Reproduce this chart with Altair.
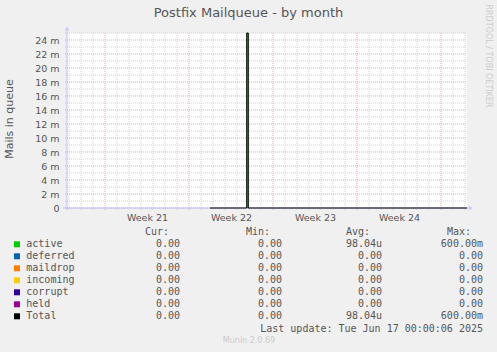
import json
import altair as alt
import pandas as pd

# ---------------- data ----------------
chart_title = "Postfix Mailqueue - by month"
y_title = "Mails in queue"
watermark = "RRDTOOL / TOBI OETIKER"
footer = "Munin 2.0.69"
last_update = "Last update: Tue Jun 17 00:00:06 2025"

# x axis: days counted from the start of week 21
x_domain = [-3.1667, 30.1667]
week_starts = [0, 7, 14, 21, 28]
week_mids = [3.5, 10.5, 17.5, 24.5]
week_labels = ["Week 21", "Week 22", "Week 23", "Week 24"]
day_lines = [-3, -2, -1, 1, 2, 3, 4, 5, 6, 8, 9, 10, 11, 12, 13, 15, 16, 17, 18, 19, 20,
             22, 23, 24, 25, 26, 27, 29, 30]

# y axis (mails)
y_domain = [0, 0.025]
y_major = [0.000, 0.002, 0.004, 0.006, 0.008, 0.010, 0.012, 0.014, 0.016, 0.018, 0.020, 0.022, 0.024]
y_labels = ["0", "2 m", "4 m", "6 m", "8 m", "10 m", "12 m", "14 m", "16 m", "18 m", "20 m", "22 m", "24 m"]
y_minor = [0.001, 0.003, 0.005, 0.007, 0.009, 0.011, 0.013, 0.015, 0.017, 0.019, 0.021, 0.023, 0.025]

# series samples (time in days, value in mails)
t = [8.75, 11.81, 11.94, 30.1667]
active = [0.0, 0.6, 0.0, 0.0]
total = [0.0, 0.6, 0.0, 0.0]

# legend table
names = ["active", "deferred", "maildrop", "incoming", "corrupt", "held", "Total"]
colors = ["#00cc00", "#0066b3", "#ff8000", "#ffcc00", "#330099", "#990099", "#000000"]
cur = [0, 0, 0, 0, 0, 0, 0]
mins = [0, 0, 0, 0, 0, 0, 0]
avg = [98.04e-6, 0, 0, 0, 0, 0, 98.04e-6]
maxs = [0.6, 0, 0, 0, 0, 0, 0.6]
headers = ["Cur:", "Min:", "Avg:", "Max:"]

# ---------------- helpers ----------------
def si(v):
    if v == 0:
        return "0.00\u00a0"
    for f, p in [(1e-6, "u"), (1e-3, "m"), (1, "\u00a0"), (1e3, "k")]:
        if abs(v) < f * 1000:
            return "%.2f%s" % (v / f, p)
    return "%.2f" % v

W, H = 400, 175
GRID_MINOR = "#d0d0d0"
GRID_MAJOR = "#eba3a3"
AXIS_C = "#c0c0f4"
TEXT_C = "#555555"

xs = alt.Scale(domain=x_domain, nice=False, zero=False)
ys = alt.Scale(domain=y_domain, nice=False, zero=False, clamp=True)

x_axis = alt.Axis(values=week_mids, labelExpr=json.dumps(week_labels) + "[floor(datum.value/7)]",
                  ticks=False, domain=False, grid=False, title=None, labelPadding=4,
                  labelFont="DejaVu Sans", labelFontSize=9.5, labelColor=TEXT_C)
y_axis = alt.Axis(values=y_major, labelExpr=json.dumps(y_labels) + "[round(datum.value*500)]",
                  ticks=False, domain=False, grid=False, title=None, labelPadding=8,
                  labelFont="DejaVu Sans", labelFontSize=9.5, labelColor=TEXT_C,
                  labelBaseline="middle")

# grid
hminor = alt.Chart(pd.DataFrame({"v": y_minor})).mark_rule(
    color=GRID_MINOR, strokeDash=[1, 1], strokeWidth=1).encode(
    y=alt.Y("v:Q", scale=ys, axis=y_axis), x=alt.value(-2), x2=alt.value(W))
hmajor = alt.Chart(pd.DataFrame({"v": y_major})).mark_rule(
    color=GRID_MAJOR, strokeDash=[1, 1], strokeWidth=1).encode(
    y=alt.Y("v:Q", scale=ys, axis=y_axis), x=alt.value(-2), x2=alt.value(W))
vminor = alt.Chart(pd.DataFrame({"d": day_lines})).mark_rule(
    color=GRID_MINOR, strokeDash=[1, 1], strokeWidth=1).encode(
    x=alt.X("d:Q", scale=xs, axis=x_axis), y=alt.value(0), y2=alt.value(H + 2))
vmajor = alt.Chart(pd.DataFrame({"d": week_starts})).mark_rule(
    color=GRID_MAJOR, strokeDash=[1, 1], strokeWidth=1).encode(
    x=alt.X("d:Q", scale=xs, axis=x_axis), y=alt.value(0), y2=alt.value(H + 3))

# axis lines and arrows
yline = alt.Chart(pd.DataFrame({"a": [0]})).mark_rule(color=AXIS_C, strokeWidth=1).encode(
    x=alt.value(0), y=alt.value(-2), y2=alt.value(H + 2))
xline = alt.Chart(pd.DataFrame({"a": [0]})).mark_rule(color=AXIS_C, strokeWidth=1).encode(
    x=alt.value(-4), x2=alt.value(W + 2), y=alt.value(H))
yarrow = alt.Chart(pd.DataFrame({"a": [0]})).mark_point(
    shape="triangle-up", filled=True, size=22, color="#c8c8ff", opacity=1).encode(
    x=alt.value(0), y=alt.value(-4.5))
xarrow = alt.Chart(pd.DataFrame({"a": [0]})).mark_point(
    shape="triangle-right", filled=True, size=22, color="#c8c8ff", opacity=1).encode(
    x=alt.value(W + 4), y=alt.value(H))

series = pd.DataFrame({"t": t, "active": active, "total": total})
area = alt.Chart(series).mark_area(interpolate="step-after", color="#00cc00").encode(
    x=alt.X("t:Q", scale=xs, axis=x_axis), y=alt.Y("active:Q", scale=ys, axis=y_axis))
line = alt.Chart(series).mark_line(interpolate="step-after", color="#000000", strokeWidth=1).encode(
    x=alt.X("t:Q", scale=xs, axis=x_axis), y=alt.Y("total:Q", scale=ys, axis=y_axis))

# ---------------- text blocks (pixel layout relative to plot origin) ----------------
def text_layer(df, font, size, color, align="left", angle=0):
    return alt.Chart(df).mark_text(font=font, fontSize=size, color=color, align=align,
                                   baseline="middle", angle=angle).encode(
        x=alt.X("px:Q", scale=None, axis=None),
        y=alt.Y("py:Q", scale=None, axis=None),
        text="txt:N")

ROW0 = 211.3
ROWH = 12
n = len(names)
row_y = [ROW0 + i * ROWH for i in range(n)]

names_df = pd.DataFrame({"txt": names, "px": [-40.7] * n, "py": row_y})
swatch_df = pd.DataFrame({"c": colors, "px": [-50] * n, "py": row_y})
hdr_df = pd.DataFrame({"txt": headers, "px": [78, 179, 279, 380], "py": [199.3] * 4})
val_rows = []
for col, (arr, right) in enumerate(zip([cur, mins, avg, maxs], [113, 215, 315, 416])):
    for i, v in enumerate(arr):
        val_rows.append({"txt": si(v), "px": right, "py": row_y[i]})
vals_df = pd.DataFrame(val_rows)
upd_df = pd.DataFrame({"txt": [last_update], "px": [416], "py": [295.7]})

swatches = alt.Chart(swatch_df).mark_square(size=36, opacity=1).encode(
    x=alt.X("px:Q", scale=None, axis=None), y=alt.Y("py:Q", scale=None, axis=None),
    color=alt.Color("c:N", scale=None))

mono = "DejaVu Sans Mono"
sans = "DejaVu Sans"
layers = [
    hminor, vminor, hmajor, vmajor, yline, xline, yarrow, xarrow, area, line,
    text_layer(pd.DataFrame({"txt": [chart_title], "px": [181.5], "py": [-19.7]}), sans, 13, TEXT_C, "center"),
    text_layer(pd.DataFrame({"txt": [y_title], "px": [-57], "py": [86]}), sans, 11, TEXT_C, "center", 270),
    text_layer(pd.DataFrame({"txt": [watermark], "px": [421], "py": [23]}), sans, 8, "#cccccc", "center", 90),
    text_layer(pd.DataFrame({"txt": [footer], "px": [182], "py": [308.3]}), sans, 8, "#cccccc", "center"),
    swatches,
    text_layer(names_df, mono, 10, TEXT_C, "left"),
    text_layer(hdr_df, mono, 10, TEXT_C, "left"),
    text_layer(vals_df, mono, 10, TEXT_C, "right"),
    text_layer(upd_df, mono, 10, TEXT_C, "right"),
]

chart = alt.layer(*layers).properties(
    width=W, height=H,
    padding={"left": 67, "top": 33, "right": 30, "bottom": 144},
    autosize=alt.AutoSizeParams(type="none"),
    background="#f0f0f0",
).configure_view(fill="white", stroke=None)

chart.save("out.html", embed_options={"renderer": "svg", "actions": False})
